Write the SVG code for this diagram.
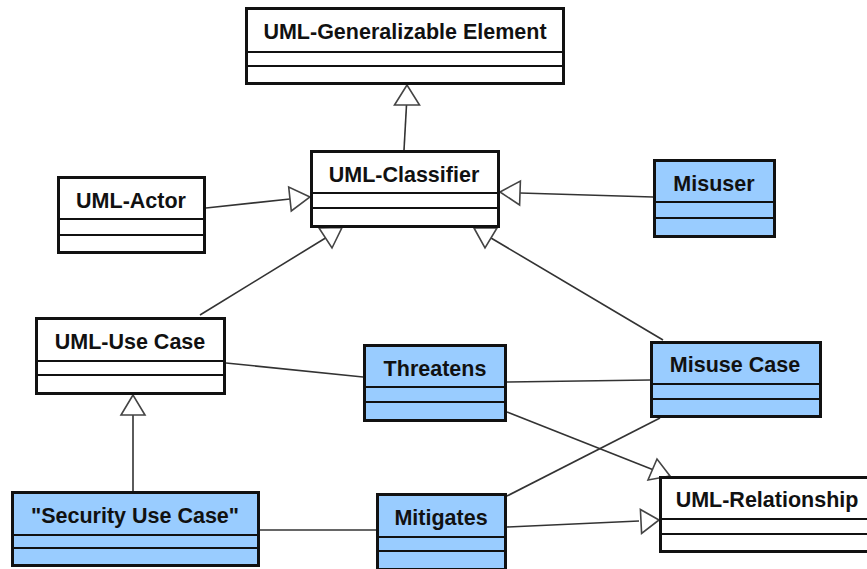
<svg xmlns="http://www.w3.org/2000/svg" width="867" height="569" viewBox="0 0 867 569">
  <style>
    .box { stroke: #111; stroke-width: 3; }
    .plain { fill: #ffffff; }
    .blue { fill: #99ccff; }
    .sep { stroke: #111; stroke-width: 1.8; }
    .label { font-family: "Liberation Sans", Arial, sans-serif; font-weight: bold; font-size: 21.5px; fill: #111; text-anchor: middle; }
    .conn { stroke: #333; stroke-width: 1.6; fill: none; }
    .head { fill: #ffffff; stroke: #444; stroke-width: 1.6; stroke-linejoin: miter; }
  </style>

  <rect width="867" height="569" fill="#ffffff"/>

  <!-- connectors (drawn beneath the classes) -->
  <g id="connectors">
    <!-- UML-Classifier generalizes to UML-Generalizable Element -->
    <line class="conn" x1="404" y1="150" x2="406.5" y2="105"/>
    <polygon class="head" points="407,85 394.5,105 419.5,105"/>

    <!-- UML-Actor to UML-Classifier -->
    <line class="conn" x1="206" y1="208" x2="290" y2="199"/>
    <polygon class="head" points="310,197 288.7,187 291.3,211"/>

    <!-- Misuser to UML-Classifier -->
    <line class="conn" x1="653" y1="197" x2="520" y2="193"/>
    <polygon class="head" points="500,192 520.4,181 519.6,205"/>

    <!-- UML-Use Case to UML-Classifier -->
    <line class="conn" x1="200" y1="315" x2="325.5" y2="238"/>
    <polygon class="head" points="342,227.5 319,228 332,248"/>

    <!-- Misuse Case to UML-Classifier -->
    <line class="conn" x1="663" y1="340" x2="491" y2="238"/>
    <polygon class="head" points="474,228 485,248 497,228"/>

    <!-- UML-Use Case to Threatens -->
    <line class="conn" x1="226" y1="363" x2="363" y2="377"/>

    <!-- Threatens to Misuse Case -->
    <line class="conn" x1="507" y1="382" x2="650" y2="380"/>

    <!-- Threatens to UML-Relationship -->
    <line class="conn" x1="507" y1="412" x2="652.5" y2="469.5"/>
    <polygon class="head" points="670,476 648,480 657,459"/>

    <!-- "Security Use Case" to UML-Use Case -->
    <line class="conn" x1="133" y1="491" x2="133" y2="415"/>
    <polygon class="head" points="133,395 121,415 145,415"/>

    <!-- "Security Use Case" to Mitigates -->
    <line class="conn" x1="260" y1="530" x2="376" y2="530"/>

    <!-- Mitigates to Misuse Case -->
    <line class="conn" x1="507" y1="496" x2="660" y2="418"/>

    <!-- Mitigates to UML-Relationship -->
    <line class="conn" x1="507" y1="527" x2="639" y2="521"/>
    <polygon class="head" points="659,520 640.4,509.5 641.6,533.5"/>
  </g>

  <!-- classes -->
  <g id="generalizable-element">
    <rect class="box plain" x="246.5" y="8.5" width="317" height="75"/>
    <line class="sep" x1="246.5" y1="52" x2="563.5" y2="52"/>
    <line class="sep" x1="246.5" y1="66" x2="563.5" y2="66"/>
    <text class="label" x="405" y="39">UML-Generalizable Element</text>
  </g>

  <g id="classifier">
    <rect class="box plain" x="311.5" y="151.5" width="187" height="75"/>
    <line class="sep" x1="311.5" y1="193" x2="498.5" y2="193"/>
    <line class="sep" x1="311.5" y1="208" x2="498.5" y2="208"/>
    <text class="label" x="404" y="182">UML-Classifier</text>
  </g>

  <g id="actor">
    <rect class="box plain" x="58.5" y="177.5" width="146" height="75"/>
    <line class="sep" x1="58.5" y1="219" x2="204.5" y2="219"/>
    <line class="sep" x1="58.5" y1="235" x2="204.5" y2="235"/>
    <text class="label" x="131" y="208">UML-Actor</text>
  </g>

  <g id="misuser">
    <rect class="box blue" x="654.5" y="160.5" width="120" height="76"/>
    <line class="sep" x1="654.5" y1="202" x2="774.5" y2="202"/>
    <line class="sep" x1="654.5" y1="218" x2="774.5" y2="218"/>
    <text class="label" x="714" y="191">Misuser</text>
  </g>

  <g id="use-case">
    <rect class="box plain" x="36.5" y="318.5" width="188" height="75"/>
    <line class="sep" x1="36.5" y1="361" x2="224.5" y2="361"/>
    <line class="sep" x1="36.5" y1="375" x2="224.5" y2="375"/>
    <text class="label" x="130" y="349">UML-Use Case</text>
  </g>

  <g id="threatens">
    <rect class="box blue" x="364.5" y="345.5" width="141" height="75"/>
    <line class="sep" x1="364.5" y1="387" x2="505.5" y2="387"/>
    <line class="sep" x1="364.5" y1="402" x2="505.5" y2="402"/>
    <text class="label" x="435" y="376">Threatens</text>
  </g>

  <g id="misuse-case">
    <rect class="box blue" x="651.5" y="342.5" width="169" height="74"/>
    <line class="sep" x1="651.5" y1="384" x2="820.5" y2="384"/>
    <line class="sep" x1="651.5" y1="399" x2="820.5" y2="399"/>
    <text class="label" x="735" y="372">Misuse Case</text>
  </g>

  <g id="security-use-case">
    <rect class="box blue" x="12.5" y="492.5" width="246" height="73"/>
    <line class="sep" x1="12.5" y1="535" x2="258.5" y2="535"/>
    <line class="sep" x1="12.5" y1="548" x2="258.5" y2="548"/>
    <text class="label" x="135" y="523">"Security Use Case"</text>
  </g>

  <g id="mitigates">
    <rect class="box blue" x="377.5" y="494.5" width="128" height="75"/>
    <line class="sep" x1="377.5" y1="537" x2="505.5" y2="537"/>
    <line class="sep" x1="377.5" y1="551" x2="505.5" y2="551"/>
    <text class="label" x="441" y="525">Mitigates</text>
  </g>

  <g id="relationship">
    <rect class="box plain" x="660.5" y="477.5" width="219" height="74"/>
    <line class="sep" x1="660.5" y1="519" x2="879.5" y2="519"/>
    <line class="sep" x1="660.5" y1="534" x2="879.5" y2="534"/>
    <text class="label" x="767" y="507">UML-Relationship</text>
  </g>
</svg>
